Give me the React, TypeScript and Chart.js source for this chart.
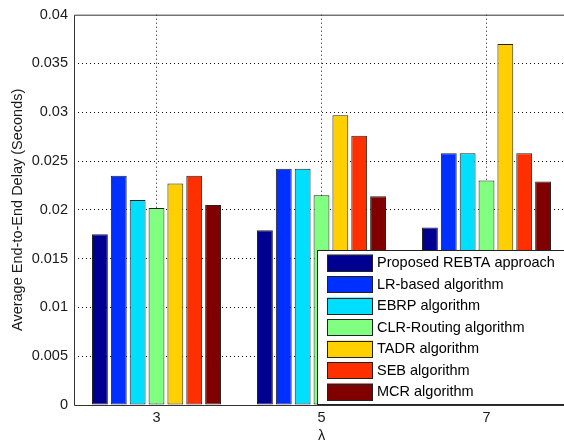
import React, { useEffect, useRef } from 'react';
import { Chart, registerables } from 'chart.js';

Chart.register(...registerables);

const categories = [3, 5, 7];
const seriesNames = [
  'Proposed REBTA approach',
  'LR-based algorithm',
  'EBRP algorithm',
  'CLR-Routing algorithm',
  'TADR algorithm',
  'SEB algorithm',
  'MCR algorithm',
];
const rebta = [0.0175, 0.0179, 0.0182];
const lrBased = [0.0235, 0.0242, 0.0258];
const ebrp = [0.021, 0.0242, 0.0258];
const clrRouting = [0.0202, 0.0215, 0.023];
const tadr = [0.0227, 0.0297, 0.037];
const seb = [0.0235, 0.0276, 0.0258];
const mcr = [0.0205, 0.0214, 0.0229];
const yTickValues = [0, 0.005, 0.01, 0.015, 0.02, 0.025, 0.03, 0.035, 0.04];
const xTitle = 'λ';
const yTitle = 'Average End-to-End Delay (Seconds)';

const seriesValues = [rebta, lrBased, ebrp, clrRouting, tadr, seb, mcr];
const colors = ['#000090', '#0030ff', '#00dfff', '#80ff80', '#ffcf00', '#ff3000', '#800000'];
const FONT = '"Liberation Sans", Arial, sans-serif';
const TEXT = '#1a1a1a';

const framePlugin = {
  id: 'frame',
  afterDraw(chart: any) {
    const { ctx, chartArea: a } = chart;
    ctx.save();
    ctx.strokeStyle = '#333';
    ctx.lineWidth = 1;
    ctx.beginPath();
    ctx.moveTo(a.left + 0.5, a.bottom + 0.5);
    ctx.lineTo(a.left + 0.5, a.top + 0.5);
    ctx.lineTo(chart.width, a.top + 0.5);
    ctx.moveTo(a.left + 0.5, a.bottom + 0.5);
    ctx.lineTo(chart.width, a.bottom + 0.5);
    ctx.stroke();

    ctx.fillStyle = TEXT;
    ctx.font = `14.5px ${FONT}`;
    ctx.textAlign = 'center';
    ctx.textBaseline = 'middle';
    ctx.fillText(xTitle, (a.left + a.right) / 2, a.bottom + 31);
    ctx.save();
    ctx.translate(18, (a.top + a.bottom) / 2);
    ctx.rotate(-Math.PI / 2);
    ctx.fillText(yTitle, 0, 0);
    ctx.restore();

    // legend
    const lx = a.left + 243;
    const ly = a.bottom - 155;
    ctx.fillStyle = '#fff';
    ctx.fillRect(lx, ly, chart.width - lx, a.bottom - ly);
    ctx.strokeStyle = '#222';
    ctx.strokeRect(lx + 0.5, ly + 0.5, chart.width, a.bottom - ly - 1);
    ctx.textAlign = 'left';
    for (let i = 0; i < seriesNames.length; i++) {
      const sy = ly + 4.5 + i * 21.5;
      ctx.fillStyle = colors[i];
      ctx.fillRect(lx + 10, sy, 46, 16.5);
      ctx.strokeStyle = '#222';
      ctx.strokeRect(lx + 10.5, Math.round(sy) + 0.5, 45, 16);
      ctx.fillStyle = '#000';
      ctx.fillText(seriesNames[i], lx + 60, sy + 8.5);
    }
    ctx.restore();
  },
};

export default function App() {
  const ref = useRef<HTMLCanvasElement>(null);
  useEffect(() => {
    if (!ref.current) return;
    const chart = new Chart(ref.current, {
      type: 'bar',
      data: {
        datasets: seriesNames.map((name, i) => ({
          label: name,
          data: categories.map((c, j) => ({ x: c, y: seriesValues[i][j] })),
          backgroundColor: colors[i],
          borderColor: '#222',
          borderWidth: 1,
          borderSkipped: false,
          categoryPercentage: 0.8,
          barPercentage: 0.84,
        })),
      },
      options: {
        responsive: false,
        maintainAspectRatio: false,
        animation: false,
        devicePixelRatio: 1,
        layout: { padding: { top: 14, right: 11, bottom: 0, left: 0 } },
        plugins: {
          legend: { display: false },
          tooltip: { enabled: false },
        },
        scales: {
          x: {
            type: 'linear',
            min: 2,
            max: 8,
            offset: false,
            afterBuildTicks: (s: any) => {
              s.ticks = categories.map((v) => ({ value: v }));
            },
            afterFit: (s: any) => {
              s.height = 41;
            },
            ticks: {
              padding: 4,
              color: TEXT,
              font: { family: FONT, size: 14.5 },
              callback: (v: any) => String(v),
              maxRotation: 0,
            },
            grid: { color: '#111', drawTicks: false, lineWidth: 1, offset: false },
            border: { display: false, dash: [1, 3] },
          },
          y: {
            min: 0,
            max: 0.04,
            afterBuildTicks: (s: any) => {
              s.ticks = yTickValues.map((v) => ({ value: v }));
            },
            afterFit: (s: any) => {
              s.width = 74;
            },
            ticks: {
              padding: 6,
              color: TEXT,
              font: { family: FONT, size: 14.5 },
              callback: (v: any) => String(Number(Number(v).toFixed(3))),
            },
            grid: {
              drawTicks: false,
              lineWidth: 1,
              color: (ctx: any) => {
                const v = ctx.tick ? ctx.tick.value : 0;
                return v <= 0.0001 || v >= 0.0399 ? 'rgba(0,0,0,0)' : '#111';
              },
            },
            border: { display: false, dash: [1, 3] },
          },
        },
      },
      plugins: [framePlugin],
    });
    return () => chart.destroy();
  }, []);

  return (
    <div
      style={{
        position: 'fixed',
        left: 0,
        top: 0,
        width: 564,
        height: 446,
        overflow: 'hidden',
        background: '#fff',
      }}
    >
      <canvas ref={ref} width={580} height={446} style={{ display: 'block' }} />
    </div>
  );
}
